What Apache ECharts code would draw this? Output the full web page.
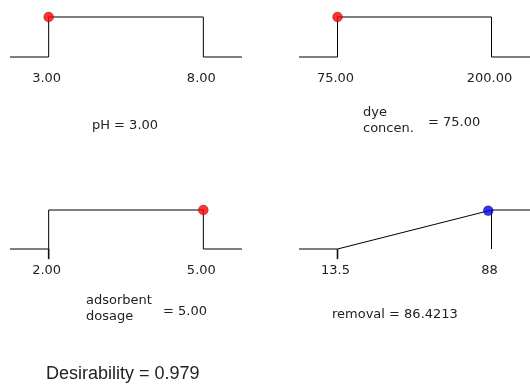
<!DOCTYPE html>
<html>
<head>
<meta charset="utf-8">
<script src="https://cdn.jsdelivr.net/npm/echarts@6/dist/echarts.min.js"></script>
<style>
html,body{margin:0;padding:0;background:#fff;}
#main{width:530px;height:385px;}
</style>
</head>
<body>
<div id="main"></div>
<script>
// ---- data ----
const factorNames = ['pH', 'dye\nconcen.', 'adsorbent\ndosage', 'removal'];
const lows = [3, 75, 2, 13.5];
const highs = [8, 200, 5, 88];
const goals = ['range', 'range', 'range', 'max'];
const currentValues = [3, 75, 5, 86.4213];
const currentDesir = [1, 1, 1, 0.979];
const tickLabels = [['3.00', '8.00'], ['75.00', '200.00'], ['2.00', '5.00'], ['13.5', '88']];
const valueLabels = ['3.00', '75.00', '5.00', '86.4213'];
const showLowTick = [false, false, true, true];
const dotColors = ['#ff0000', '#ff0000', '#ff0000', '#0000ee'];
const desirability = '0.979';

// ---- layout ----
// grid spans from desirability 1 (top) down to the tick end (yMin); baseline = desirability 0
const yMin = -0.26;
const gridPos = [
  {left: 10, top: 17, width: 232, height: 40 * (1 - yMin)},
  {left: 299, top: 17, width: 232, height: 40 * (1 - yMin)},
  {left: 10, top: 210, width: 232, height: 39 * (1 - yMin)},
  {left: 299, top: 210, width: 232, height: 39 * (1 - yMin)}
];
const labelMargins = [5, 5, 5, 5];
const pad = 0.25;
const lineColor = '#000';
const font = 'DejaVu Sans';

const grids = [], xAxes = [], yAxes = [], series = [];
for (let i = 0; i < 4; i++) {
  const lo = lows[i], hi = highs[i];
  const mn = lo - pad * (hi - lo), mx = hi + pad * (hi - lo);
  grids.push(Object.assign({containLabel: false}, gridPos[i]));
  xAxes.push({
    type: 'value', gridIndex: i, min: mn, max: mx,
    splitLine: {show: false},
    axisLine: {show: false, onZero: false},
    axisTick: {show: false},
    axisLabel: {
      customValues: [lo, hi], margin: labelMargins[i], color: '#222',
      fontFamily: font, fontSize: 13, padding: [0, 4, 0, 0],
      formatter: (v) => (Math.abs(v - lo) < 1e-9 ? tickLabels[i][0] : tickLabels[i][1])
    }
  });
  yAxes.push({type: 'value', gridIndex: i, min: yMin, max: 1, show: false});
  let pts;
  if (goals[i] === 'range') {
    pts = [[mn, 0], [lo, 0], [lo, 1], [hi, 1], [hi, 0], [mx, 0]];
  } else {
    pts = [[mn, 0], [lo, 0], [hi, 1], [mx, 1]];
    series.push({
      type: 'line', xAxisIndex: i, yAxisIndex: i, data: [[hi, 0], [hi, 1]],
      showSymbol: false, clip: false, silent: true,
      lineStyle: {color: lineColor, width: 1}
    });
  }
  if (showLowTick[i]) {
    series.push({
      type: 'line', xAxisIndex: i, yAxisIndex: i, data: [[lo, yMin], [lo, 0]],
      showSymbol: false, clip: false, silent: true, z: 10,
      lineStyle: {color: '#111', width: 1.6}
    });
  }
  series.push({
    type: 'line', xAxisIndex: i, yAxisIndex: i, data: pts,
    showSymbol: false, clip: false, silent: true,
    lineStyle: {color: lineColor, width: 1}
  });
  series.push({
    type: 'scatter', xAxisIndex: i, yAxisIndex: i,
    data: [[currentValues[i], currentDesir[i]]],
    symbol: 'circle', symbolSize: 10, clip: false, silent: true, z: 5,
    itemStyle: {color: dotColors[i], borderColor: 'rgba(0,0,0,0.35)', borderWidth: 0.8}
  });
}

const st = (extra) => Object.assign({fill: '#222', font: '13px "' + font + '"', verticalAlign: 'middle'}, extra);

const graphics = [
  {type: 'text', x: 125, y: 126, style: st({text: factorNames[0] + ' = ' + valueLabels[0], align: 'center'})},
  {type: 'text', x: 363, y: 121, style: st({text: factorNames[1], lineHeight: 16})},
  {type: 'text', x: 428, y: 123, style: st({text: '= ' + valueLabels[1]})},
  {type: 'text', x: 86, y: 309, style: st({text: factorNames[2], lineHeight: 16})},
  {type: 'text', x: 163, y: 311.5, style: st({text: '= ' + valueLabels[2]})},
  {type: 'text', x: 332, y: 315, style: st({text: factorNames[3] + ' = ' + valueLabels[3]})},
  {type: 'text', x: 46, y: 374, style: {text: 'Desirability = ' + desirability, fill: '#222', font: '18px "Liberation Sans"', verticalAlign: 'middle'}}
];

const chart = echarts.init(document.getElementById('main'), null, {renderer: 'canvas'});
chart.setOption({
  animation: false,
  backgroundColor: '#fff',
  grid: grids, xAxis: xAxes, yAxis: yAxes, series: series,
  graphic: graphics
});
</script>
</body>
</html>
